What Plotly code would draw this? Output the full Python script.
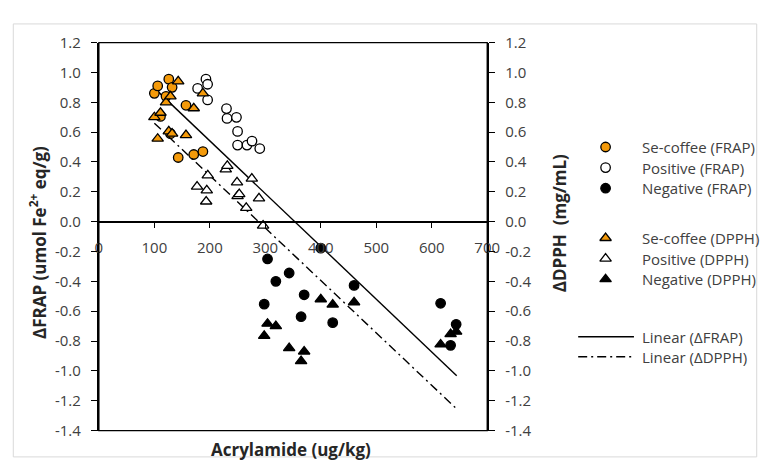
import plotly.graph_objects as go

W, H = 779, 475

# ---------------- data ----------------
se_x = [100, 106, 111, 121, 126, 129, 132, 143, 157, 171, 187.5]
se_frap = [0.86, 0.91, 0.705, 0.84, 0.955, 0.59, 0.90, 0.43, 0.78, 0.45, 0.47]
se_dpph = [0.70, 0.556, 0.73, 0.80, 0.605, 0.84, 0.59, 0.94, 0.58, 0.76, 0.86]

pos_frap_x = [178, 193, 196, 196, 230, 231, 248, 250, 250, 267, 276, 290]
pos_frap = [0.893, 0.955, 0.921, 0.816, 0.758, 0.692, 0.699, 0.605, 0.513, 0.513, 0.54, 0.49]
pos_dpph_x = [177, 193.4, 194.5, 196.3, 228.7, 231.5, 249, 250, 253, 265.6, 275.7, 288.6, 296]
pos_dpph = [0.235, 0.135, 0.21, 0.31, 0.35, 0.374, 0.263, 0.171, 0.185, 0.092, 0.288, 0.156, -0.026]

neg_x = [298, 304, 319, 343, 364.5, 370, 400, 421.5, 460, 616, 634, 644]
neg_frap = [-0.553, -0.25, -0.40, -0.344, -0.637, -0.49, -0.177, -0.677, -0.427, -0.547, -0.829, -0.688]
neg_dpph = [-0.765, -0.684, -0.70, -0.848, -0.934, -0.87, -0.52, -0.556, -0.54, -0.823, -0.754, -0.737]

lin_frap_x = [100, 645]
lin_frap_y = [0.895, -1.032]
lin_dpph_x = [100, 645]
lin_dpph_y = [0.660, -1.255]

x_ticks = [0, 100, 200, 300, 400, 500, 600, 700]
x_ticktext = ["0", "100", "200", "300", "400", "500", "600", "700"]
y_ticks = [-1.4, -1.2, -1.0, -0.8, -0.6, -0.4, -0.2, 0.0, 0.2, 0.4, 0.6, 0.8, 1.0, 1.2]
y_ticktext = ["-1.4", "-1.2", "-1.0", "-0.8", "-0.6", "-0.4", "-0.2", "0.0",
              "0.2", "0.4", "0.6", "0.8", "1.0", "1.2"]

legend_labels = ["Se-coffee (FRAP)", "Positive (FRAP)", "Negative (FRAP)",
                 "Se-coffee (DPPH)", "Positive (DPPH)", "Negative (DPPH)",
                 "Linear (\u0394FRAP)", "Linear (\u0394DPPH)"]

# ---------------- styles ----------------
ORANGE = "#F49A0A"
FONT = "Open Sans"
TXT = "#404040"
TICKSIZE = 15
TITLESIZE = 17

# plot area in pixels
PL, PR, PT, PB = 97, 494, 33, 438
YMIN, YMAX = -1.4, 1.2
xdom = [PL / W, PR / W]
ydom = [(H - PB) / H, (H - PT) / H]
xpos = ydom[0] + (0 - YMIN) / (YMAX - YMIN) * (ydom[1] - ydom[0])

fig = go.Figure()

# trend lines
fig.add_trace(go.Scatter(x=lin_frap_x, y=lin_frap_y, mode="lines",
                         line=dict(color="black", width=1.4), showlegend=False))
fig.add_trace(go.Scatter(x=lin_dpph_x, y=lin_dpph_y, mode="lines", yaxis="y2",
                         line=dict(color="black", width=1.4, dash="9px,4px,2px,4px"),
                         showlegend=False))

def mk(symbol, fill):
    return dict(symbol=symbol, size=10 if "triangle" in symbol else 9.5, color=fill,
                line=dict(color="black", width=1.3))

series = [
    (se_x, se_frap, "y", mk("circle", ORANGE)),
    (pos_frap_x, pos_frap, "y", mk("circle", "white")),
    (neg_x, neg_frap, "y", mk("circle", "black")),
    (se_x, se_dpph, "y2", mk("triangle-up", ORANGE)),
    (pos_dpph_x, pos_dpph, "y2", mk("triangle-up", "white")),
    (neg_x, neg_dpph, "y2", mk("triangle-up", "black")),
]
for (xs, ys, ya, m), name in zip(series, legend_labels[:6]):
    fig.add_trace(go.Scatter(x=xs, y=ys, mode="markers", yaxis=ya, marker=m,
                             name=name, showlegend=False))

# ---------------- manual legend (pixel overlay axes) ----------------
leg_rows = [142, 163.5, 185, 237, 258.5, 280, 340, 361]
leg_mark_x = 615
leg_text_x = 650
for i, (lab, y) in enumerate(zip(legend_labels, leg_rows)):
    if i < 6:
        m = series[i][3]
        fig.add_trace(go.Scatter(x=[leg_mark_x], y=[y], mode="markers", marker=m,
                                 xaxis="x3", yaxis="y3", showlegend=False,
                                 hoverinfo="skip", cliponaxis=False))
    else:
        dash = "solid" if i == 6 else "9px,4px,2px,4px"
        fig.add_trace(go.Scatter(x=[587, 644], y=[y, y], mode="lines",
                                 line=dict(color="black", width=1.4, dash=dash),
                                 xaxis="x3", yaxis="y3", showlegend=False,
                                 hoverinfo="skip", cliponaxis=False))
    fig.add_annotation(x=leg_text_x, y=y, xref="x3", yref="y3", text=lab,
                       showarrow=False, xanchor="left", yanchor="middle",
                       font=dict(family=FONT, size=TICKSIZE, color=TXT))

# axis titles
fig.add_annotation(x=35, y=242, xref="x3", yref="y3",
                   text="<b>\u0394FRAP (umol Fe<sup>2+</sup> eq/g)</b>", textangle=-90,
                   showarrow=False, font=dict(family=FONT, size=TITLESIZE, color="#262626"))
fig.add_annotation(x=568, y=222, xref="x3", yref="y3",
                   text="<b>\u0394DPPH \u00a0(mg/mL)</b>", textangle=-90,
                   showarrow=False, font=dict(family=FONT, size=TITLESIZE, color="#262626"))
fig.add_annotation(x=293, y=458, xref="x3", yref="y3",
                   text="<b>Acrylamide (ug/kg)</b>",
                   showarrow=False, font=dict(family=FONT, size=TITLESIZE, color="#262626"))

# borders
fig.add_shape(type="rect", xref="paper", yref="paper",
              x0=9.5 / W, y0=1 - 465.5 / H, x1=769.5 / W, y1=1 - 13.5 / H,
              line=dict(color="#d9d9d9", width=1), layer="below")
fig.add_shape(type="rect", xref="x domain", yref="y domain", x0=0, y0=0, x1=1, y1=1,
              line=dict(color="black", width=1.3))

axfont = dict(family=FONT, size=TICKSIZE, color=TXT)
fig.update_layout(
    width=W, height=H, margin=dict(l=0, r=0, t=0, b=0),
    paper_bgcolor="white", plot_bgcolor="rgba(0,0,0,0)", showlegend=False,
    xaxis=dict(domain=xdom, range=[0, 700], anchor="free", position=xpos,
               tickvals=x_ticks, ticktext=x_ticktext, ticks="outside", ticklen=5,
               tickcolor="black", tickwidth=1.3, showline=True, linecolor="black",
               linewidth=2, showgrid=False, zeroline=False, tickfont=axfont,
               ticklabelstandoff=7),
    yaxis=dict(domain=ydom, range=[YMIN, YMAX], anchor="x",
               tickvals=y_ticks, ticktext=y_ticktext, ticks="outside", ticklen=6,
               tickcolor="black", tickwidth=1.3, showline=True, linecolor="black",
               linewidth=2, showgrid=False, zeroline=False, tickfont=axfont,
               ticklabelstandoff=7),
    yaxis2=dict(domain=ydom, range=[YMIN, YMAX], overlaying="y", side="right", anchor="x",
                tickvals=y_ticks, ticktext=y_ticktext, ticks="outside", ticklen=6,
                tickcolor="black", tickwidth=1.3, showline=True, linecolor="black",
                linewidth=2, showgrid=False, zeroline=False, tickfont=axfont,
                ticklabelstandoff=7),
    xaxis3=dict(domain=[0, 1], range=[0, W], visible=False, fixedrange=True,
                anchor="y3"),
    yaxis3=dict(domain=[0, 1], range=[H, 0], visible=False, fixedrange=True,
                anchor="x3"),
)

fig.write_html("out.html")
